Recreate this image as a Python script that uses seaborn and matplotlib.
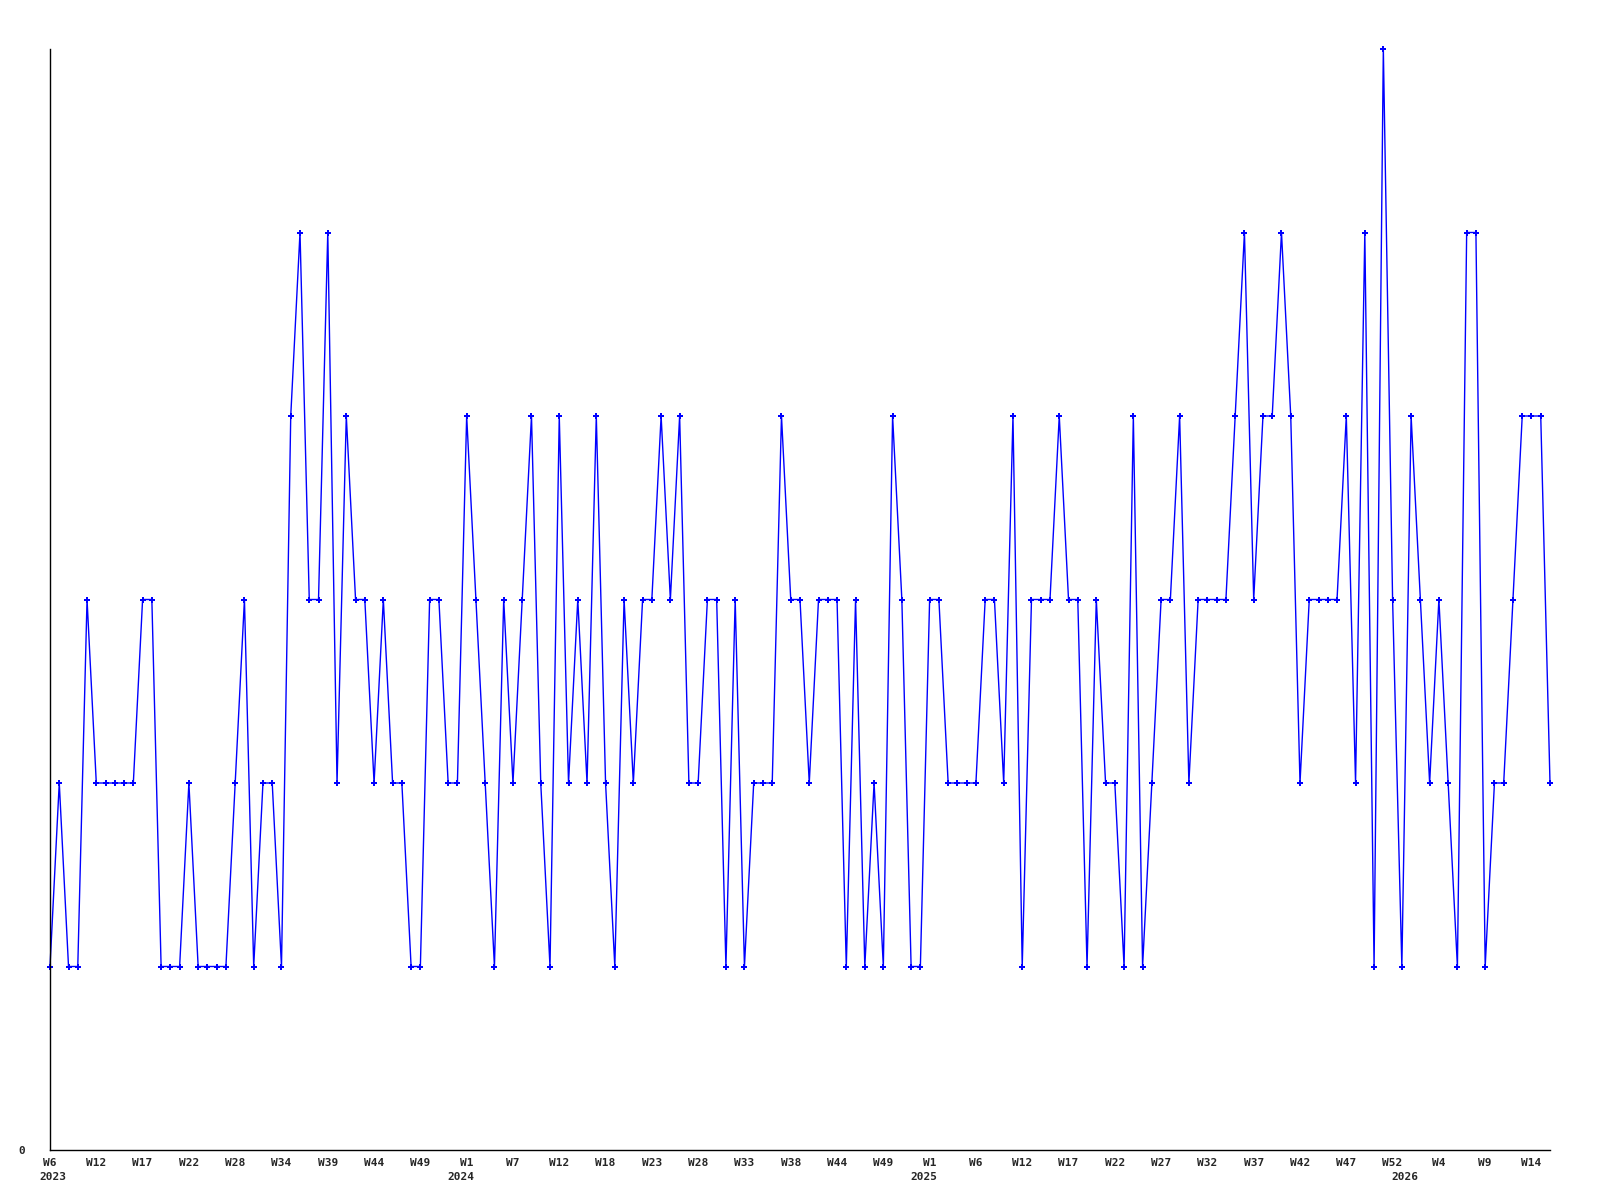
import pandas as pd
import matplotlib
matplotlib.use('Agg')
import matplotlib.pyplot as plt
import seaborn as sns

# weekly counts, one entry per week that had data (empty weeks are left out)
counts = [
    1, 2, 1, 1, 3, 2, 2, 2, 2, 2, 3, 3, 1, 1, 1, 2, 1, 1, 1, 1, 2, 3, 1, 2,
    2, 1, 4, 5, 3, 3, 5, 2, 4, 3, 3, 2, 3, 2, 2, 1, 1, 3, 3, 2, 2, 4, 3,
    2, 1, 3, 2, 3, 4, 2, 1, 4, 2, 3, 2, 4, 2, 1, 3, 2, 3, 3, 4, 3, 4, 2, 2,
    3, 3, 1, 3, 1, 2, 2, 2, 4, 3, 3, 2, 3, 3, 3, 1, 3, 1, 2, 1, 4, 3,
    1, 1, 3, 3, 2, 2, 2, 2, 3, 3, 2, 4, 1, 3, 3, 3, 4, 3, 3, 1, 3, 2, 2, 1,
    4, 1, 2, 3, 3, 4, 2, 3, 3, 3, 3, 4, 5, 3, 4, 4, 5, 4, 2, 3, 3, 3, 3,
    4, 2, 5, 1, 6, 3, 1, 4, 3, 2, 3, 2, 1, 5, 5, 1, 2, 2, 3, 4, 4, 4, 2,
]

# labels shown on every 5th point
week_labels = ['W6', 'W12', 'W17', 'W22', 'W28', 'W34', 'W39', 'W44', 'W49',
               'W1', 'W7', 'W12', 'W18', 'W23', 'W28', 'W33', 'W38', 'W44', 'W49',
               'W1', 'W6', 'W12', 'W17', 'W22', 'W27', 'W32', 'W37', 'W42', 'W47', 'W52',
               'W4', 'W9', 'W14']
years = ['2023', '2024', '2025', '2026']
year_index = [0.3, 44.4, 94.4, 146.3]

data = pd.DataFrame({'idx': range(len(counts)), 'count': counts})

sns.set_style('white')
plt.rcParams['font.family'] = ['DejaVu Sans Mono', 'DejaVu Sans']

fig = plt.figure(figsize=(16, 12), dpi=100)
ax = fig.add_axes([50 / 1600, 1 - 1150 / 1200, 1500 / 1600, 1101 / 1200])

sns.lineplot(data=data, x='idx', y='count', ax=ax, color='#0000ff', linewidth=1,
             marker='P', markersize=4, markeredgewidth=0, clip_on=False)

ax.set_xlim(0, len(counts) - 1)
ax.set_ylim(0, 6)
ax.set_xlabel('')
ax.set_ylabel('')

ax.set_xticks(range(0, len(counts), 5))
ax.set_xticklabels(week_labels, fontsize=8, fontweight='bold')
ax.set_yticks([0])
ax.set_yticklabels(['0'], fontsize=8, fontweight='bold')
ax.tick_params(axis='x', length=0, pad=6)
ax.tick_params(axis='y', length=0, pad=18)

for y, i in zip(years, year_index):
    ax.text(i, -0.0245, y, transform=ax.get_xaxis_transform(), ha='center', va='center',
            fontsize=8, fontweight='bold')

for side in ['top', 'right']:
    ax.spines[side].set_visible(False)
for side in ['left', 'bottom']:
    ax.spines[side].set_color('black')
    ax.spines[side].set_linewidth(1)

fig.savefig('out.png', dpi=100)
